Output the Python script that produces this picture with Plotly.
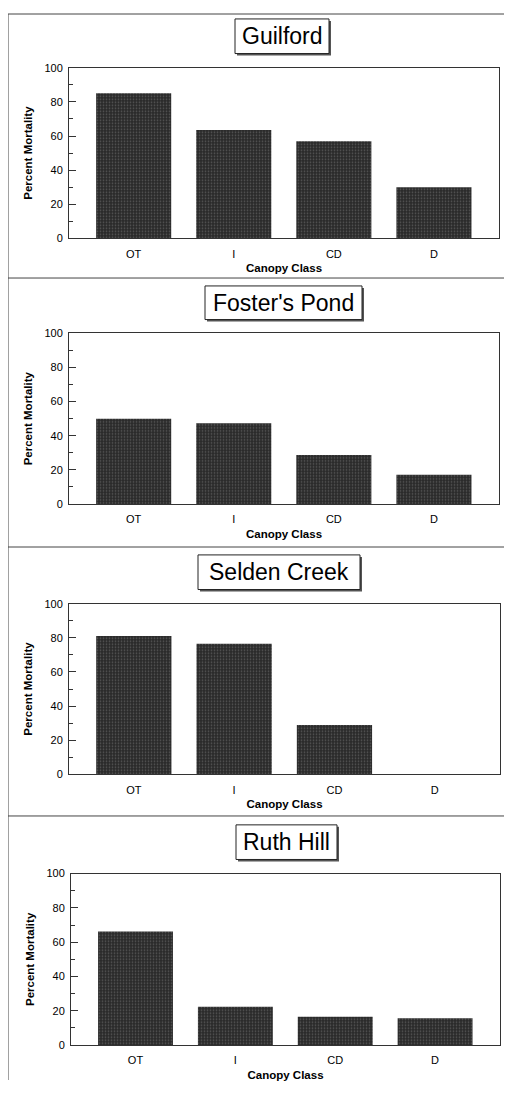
import plotly.graph_objects as go

categories = ["OT", "I", "CD", "D"]
sites = ["Guilford", "Foster's Pond", "Selden Creek", "Ruth Hill"]
guilford = [85, 63.5, 57, 30]
fosters_pond = [50, 47.3, 28.7, 17.2]
selden_creek = [81, 76.5, 29, 0]
ruth_hill = [66.3, 22.3, 16.6, 15.6]
series = [guilford, fosters_pond, selden_creek, ruth_hill]
y_ticks = [0, 20, 40, 60, 80, 100]

# page is 512x1094; the browser body has an 8px margin, so the figure is 16px smaller
OFF = 8
W, H = 512 - 2 * OFF, 1094 - 2 * OFF
plot_x = [(69, 499), (69, 499), (69, 500), (71, 500)]
plot_y = [(62.3, 235), (331, 503.5), (604.3, 777), (877.3, 1050.7)]
title_boxes = [(235, 13, 329, 48), (205, 283, 362, 317), (198, 555, 360, 590), (236, 828, 337, 863)]
separators = [5, 275, 547, 819]

FONT = "Arial, Liberation Sans, Helvetica, sans-serif"


def px(x):
    return max(0.0, min(1.0, (x - OFF) / W))


def py(y):
    return max(0.0, min(1.0, 1 - (y - OFF) / H))


fig = go.Figure()
shapes = []
annotations = []

for i, (site, vals) in enumerate(zip(sites, series)):
    n = "" if i == 0 else str(i + 1)
    fig.add_trace(go.Bar(
        x=categories, y=vals,
        xaxis="x" + n, yaxis="y" + n,
        width=0.75,
        marker=dict(
            color="#2a2a2a",
            line=dict(width=0),
            pattern=dict(shape=".", fgcolor="#8a8a8a", bgcolor="#2a2a2a", size=3, solidity=0.25),
        ),
        showlegend=False,
    ))
    x0, x1 = plot_x[i]
    y0, y1 = plot_y[i]
    fig.layout["xaxis" + n] = dict(
        domain=[px(x0), px(x1)], anchor="y" + n,
        range=[-0.646, 3.65], type="category",
        showline=True, linecolor="#333", linewidth=1, mirror=True,
        ticks="", showgrid=False, zeroline=False,
        tickfont=dict(family=FONT, size=11, color="#000"),
        ticklabelstandoff=5,
        title=dict(text="<b>Canopy Class</b>", font=dict(family=FONT, size=11.5, color="#000"), standoff=5),
    )
    fig.layout["yaxis" + n] = dict(
        domain=[py(y1), py(y0)], anchor="x" + n,
        range=[0, 100], tickvals=y_ticks,
        showline=True, linecolor="#333", linewidth=1, mirror=True,
        ticks="inside", ticklen=7, tickcolor="#333", tickwidth=1,
        minor=dict(ticks="inside", ticklen=4, dtick=10, tickcolor="#333", showgrid=False),
        showgrid=False, zeroline=False,
        tickfont=dict(family=FONT, size=11, color="#000"),
        ticklabelstandoff=3,
        title=dict(text="<b>Percent Mortality</b>", font=dict(family=FONT, size=11.5, color="#000"), standoff=9),
    )
    bx0, by0, bx1, by1 = title_boxes[i]
    shapes.append(dict(type="rect", xref="paper", yref="paper",
                       x0=px(bx0 + 2), x1=px(bx1 + 2), y0=py(by1 + 2), y1=py(by0 + 2),
                       fillcolor="#555", line=dict(width=0), layer="above"))
    shapes.append(dict(type="rect", xref="paper", yref="paper",
                       x0=px(bx0), x1=px(bx1), y0=py(by1), y1=py(by0),
                       fillcolor="white", line=dict(color="#222", width=1), layer="above"))
    annotations.append(dict(text=site, xref="paper", yref="paper",
                            x=px((bx0 + bx1) / 2), y=py((by0 + by1) / 2),
                            xanchor="center", yanchor="middle", showarrow=False,
                            font=dict(family=FONT, size=23, color="#000")))

for s in separators:
    shapes.append(dict(type="line", xref="paper", yref="paper",
                       x0=px(6), x1=1, y0=py(s), y1=py(s),
                       line=dict(color="#444", width=1)))
shapes.append(dict(type="line", xref="paper", yref="paper",
                   x0=px(6), x1=px(6), y0=py(5), y1=0,
                   line=dict(color="#444", width=1)))

fig.update_layout(
    width=W, height=H,
    margin=dict(l=0, r=0, t=0, b=0),
    paper_bgcolor="white", plot_bgcolor="white",
    shapes=shapes, annotations=annotations,
    font=dict(family=FONT),
)

fig.write_html("out.html")
